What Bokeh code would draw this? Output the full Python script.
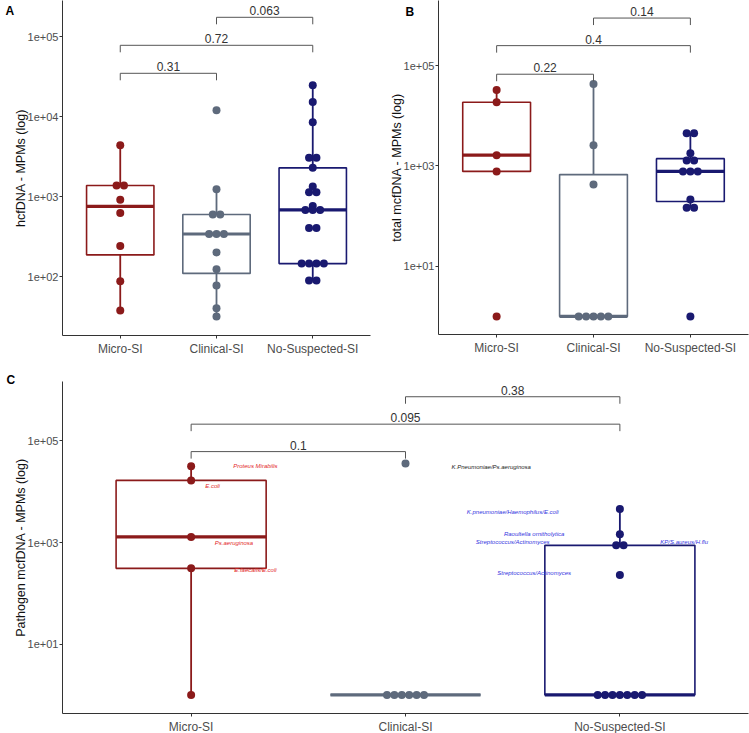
import numpy as np
from bokeh.plotting import figure
from bokeh.models import Range1d, FixedTicker, Label
from bokeh.layouts import row, column
from bokeh.embed import file_html
from bokeh.resources import INLINE
from bokeh.core.properties import value

# ---------------- data ----------------
groups = ["Micro-SI", "Clinical-SI", "No-Suspected-SI"]
group_colors = ["#8B1A1A", "#5E6A7C", "#191970"]

# Panel A: hcfDNA - MPMs
hcf_micro = [4360, 1370, 1370, 910, 620, 240, 87, 37.6]
hcf_clinical = [12000, 1230, 596, 596, 340, 340, 340, 200, 123, 77, 40, 31.6]
hcf_nosusp = [24500, 15200, 8500, 3040, 3040, 2280, 1330, 1130, 1130, 760,
              680, 680, 680, 405, 405, 145, 145, 145, 145, 89, 89]

# Panel B: total mcfDNA - MPMs
mcf_micro = [32600, 18700, 1640, 780, 1]
mcf_clinical = [43000, 2600, 430, 1, 1, 1, 1, 1]
mcf_nosusp = [4500, 4500, 1790, 1290, 1290, 780, 780, 780, 215, 147, 147, 1]

# Panel C: Pathogen mcfDNA - MPMs
path_micro = [31700, 16700, 1290, 310, 1]
path_clinical = [35800, 1, 1, 1, 1, 1, 1]
path_nosusp = [4580, 1450, 880, 880, 230, 1, 1, 1, 1, 1, 1, 1]

# tick labels
ticks_a = [1e2, 1e3, 1e4, 1e5]
tick_labels_a = ["1e+02", "1e+03", "1e+04", "1e+05"]
ticks_bc = [1e1, 1e3, 1e5]
tick_labels_bc = ["1e+01", "1e+03", "1e+05"]

# comparisons (group index pairs), p-values, bracket heights (log10)
pairs = [(1, 2), (1, 3), (2, 3)]
pvals_a = ["0.31", "0.72", "0.063"]
bracket_a = [4.54, 4.89, 5.24]
pvals_b = ["0.22", "0.4", "0.14"]
bracket_b = [4.83, 5.40, 5.95]
pvals_c = ["0.1", "0.095", "0.38"]
bracket_c = [4.79, 5.33, 5.87]

# pathogen annotations in panel C
ann_text = ["Proteus Mirabilis", "E.coli", "Ps.aeruginosa", "E.faecalis/E.coli",
            "K.Pneumoniae/Ps.aeruginosa",
            "K.pneumoniae/Haemophilus/E.coli", "Raoultella ornitholytica",
            "Streptococcus/Actinomyces", "KP/S.aureus/H.flu", "Streptococcus/Actinomyces"]
ann_group = [1, 1, 1, 1, 2, 3, 3, 3, 3, 3]
ann_value = [31700, 16700, 1290, 310, 35800, 4580, 1450, 880, 880, 230]
ann_nudge_x = [0.30, 0.10, 0.20, 0.30, 0.40, -0.50, -0.40, -0.50, 0.30, -0.40]
ann_nudge_px = [0, 6, 6, 2, 3, 3, 0, -3, -3, -2]
ann_colors = ["#E3261F", "#222222", "#3434E0"]

FONT = "Liberation Sans"
DOT = 8.0
DOT_STEP = 7.4
BOX_W = 0.70
LEFT = 62


def box_stats(vals):
    lv = np.log10(np.asarray(vals, dtype=float))
    q1, med, q3 = np.percentile(lv, [25, 50, 75])
    iqr = q3 - q1
    hi = lv[lv <= q3 + 1.5 * iqr].max()
    lo = lv[lv >= q1 - 1.5 * iqr].min()
    return 10 ** q1, 10 ** med, 10 ** q3, 10 ** lo, 10 ** hi


def dot_positions(vals, center, step_units):
    xs, ys = [], []
    uniq = []
    for v in vals:
        if v not in uniq:
            uniq.append(v)
    for u in uniq:
        k = vals.count(u)
        for i in range(k):
            xs.append(center + (i - (k - 1) / 2.0) * step_units)
            ys.append(u)
    return xs, ys


def make_panel(fw, fh, ylo, yhi, yt, ytl, ytitle, borders, data, pvals, brackets,
               letter, letter_left_px, letter_top_px, letter_side):
    p = figure(frame_width=fw, frame_height=fh,
               x_range=Range1d(0.4, 3.6), y_range=Range1d(10 ** ylo, 10 ** yhi),
               y_axis_type="log", output_backend="svg", toolbar_location=None,
               min_border_left=borders[0], min_border_right=borders[1],
               min_border_top=borders[2], min_border_bottom=borders[3])
    p.xgrid.visible = False
    p.ygrid.visible = False
    p.outline_line_color = None
    p.background_fill_color = "white"
    p.border_fill_color = "white"

    p.xaxis.ticker = FixedTicker(ticks=[1, 2, 3])
    p.xaxis.major_label_overrides = {i + 1: g for i, g in enumerate(groups)}
    p.yaxis.ticker = FixedTicker(ticks=yt)
    p.yaxis.major_label_overrides = {t: l for t, l in zip(yt, ytl)}
    for ax in (p.xaxis[0], p.yaxis[0]):
        ax.minor_tick_line_color = None
        ax.major_tick_out = 3
        ax.major_tick_in = 0
        ax.axis_line_color = "#333333"
        ax.axis_line_width = 1
        ax.major_tick_line_color = "#333333"
        ax.major_label_text_font = FONT
        ax.major_label_text_color = "#4D4D4D"
    p.xaxis.major_label_text_font_size = "12px"
    p.xaxis.major_label_standoff = 3
    p.yaxis.major_label_text_font_size = "11px"
    p.yaxis.major_label_standoff = 1
    p.yaxis.axis_label = ytitle
    p.yaxis.axis_label_text_font = FONT
    p.yaxis.axis_label_text_font_size = "12.5px"
    p.yaxis.axis_label_text_font_style = "normal"
    p.yaxis.axis_label_text_color = "#111111"
    p.yaxis.axis_label_standoff = -3

    px_per_unit = fw / 3.2
    px_per_dec = fh / (yhi - ylo)
    step_units = DOT_STEP / px_per_unit

    for i, (vals, col) in enumerate(zip(data, group_colors)):
        x = i + 1
        q1, med, q3, lo, hi = box_stats(vals)
        p.segment(x0=[x, x], y0=[q3, lo], x1=[x, x], y1=[hi, q1], line_color=col, line_width=1.8)
        p.quad(left=[x - BOX_W / 2], right=[x + BOX_W / 2], bottom=[q1], top=[q3],
               fill_color=None, line_color=col, line_width=1.6)
        p.segment(x0=[x - BOX_W / 2], y0=[med], x1=[x + BOX_W / 2], y1=[med],
                  line_color=col, line_width=3.2)
        xs, ys = dot_positions(list(vals), x, step_units)
        p.scatter(xs, ys, size=DOT, fill_color=col, line_color=col, line_width=0)

    # comparison brackets
    drop = 7.0 / px_per_dec
    for (a, b), lab, h in zip(pairs, pvals, brackets):
        top = 10 ** h
        bot = 10 ** (h - drop)
        p.segment(x0=[a, a, b], y0=[top, bot, bot], x1=[b, a, b], y1=[top, top, top],
                  line_color="#555555", line_width=1)
        p.text(x=[(a + b) / 2.0], y=[top], text=[lab], text_font=value(FONT),
               text_font_size="12px", text_color="#333333", text_align="center",
               text_baseline="bottom", y_offset=-2)

    # panel letter: annotation in a side panel (not clipped to the frame)
    lx = 0.4 - letter_left_px / px_per_unit
    ly = 10 ** (yhi - letter_top_px / px_per_dec)
    p.add_layout(Label(x=lx, y=ly, text=letter, text_font=FONT, text_font_size="12px",
                       text_font_style="bold", text_color="black",
                       text_baseline="top", text_align="left"), letter_side)
    return p


# frame widths derived from a 749 px wide page: B's frame starts at 438
fw_b = 310
fw_a = 370 - LEFT
right_a = (438 - LEFT) - LEFT - fw_a
fw_c = 749 - LEFT - 1

pa = make_panel(fw_a, 335, 1.2625, 5.45, ticks_a, tick_labels_a, "hcfDNA - MPMs (log)",
                (LEFT, right_a, 0, 25), [hcf_micro, hcf_clinical, hcf_nosusp],
                pvals_a, bracket_a, "A", 370 - fw_a - 5, 3, "left")
pb = make_panel(fw_b, 334, -0.36, 6.30, ticks_bc, tick_labels_bc, "total mcfDNA - MPMs (log)",
                (LEFT, 1, 0, 26), [mcf_micro, mcf_clinical, mcf_nosusp],
                pvals_b, bracket_b, "B", 33, 4, "left")
pc = make_panel(fw_c, 332, -0.366, 6.17, ticks_bc, tick_labels_bc, "Pathogen mcfDNA - MPMs (log)",
                (LEFT, 1, 21, 20), [path_micro, path_clinical, path_nosusp],
                pvals_c, bracket_c, "C", LEFT - 6, -9, "above")

# pathogen annotations
ann_x = [g + dx for g, dx in zip(ann_group, ann_nudge_x)]
ann_col = [ann_colors[g - 1] for g in ann_group]
pc.text(x=ann_x, y=ann_value, text=ann_text, text_font=value(FONT),
        text_font_style="italic", text_font_size="6px", text_color=ann_col,
        text_align="center", text_baseline="middle", y_offset=ann_nudge_px)

layout = column(row(pa, pb), pc)
open("out.html", "w").write(file_html(layout, INLINE))
